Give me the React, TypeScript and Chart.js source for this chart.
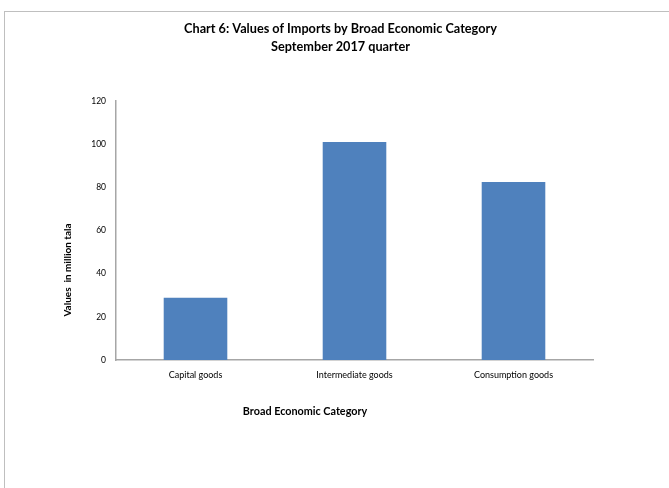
import React, { useEffect, useRef } from "react";
import { Chart, registerables } from "chart.js";

Chart.register(...registerables);

const titleLines = ["Chart 6: Values of Imports by Broad Economic Category", "September 2017 quarter"];
const categories = ["Capital goods", "Intermediate goods", "Consumption goods"];
const importValues = [28.8, 101, 82.5];
const yTicks = [0, 20, 40, 60, 80, 100, 120];
const xAxisTitle = "Broad Economic Category";
const yAxisTitle = "Values  in million tala";

const FONT = "Lato, 'Open Sans', sans-serif";

const textPlugin = {
  id: "texts",
  afterDraw(chart: any) {
    const { ctx, chartArea } = chart;
    ctx.save();
    ctx.fillStyle = "#000";
    ctx.textAlign = "center";
    ctx.textBaseline = "middle";
    ctx.font = `bold 12.7px ${FONT}`;
    ctx.fillText(titleLines[0], 340.5, 29);
    ctx.fillText(titleLines[1], 340.5, 47);
    ctx.font = `bold 10.8px ${FONT}`;
    ctx.fillText(xAxisTitle, chartArea.left + 189, chartArea.bottom + 52);
    ctx.font = `bold 10px ${FONT}`;
    ctx.translate(chartArea.left - 48.5, chartArea.bottom - 90);
    ctx.rotate(-Math.PI / 2);
    ctx.fillText(yAxisTitle, 0, 0);
    ctx.restore();
  },
};

export default function App() {
  const ref = useRef<HTMLCanvasElement>(null);
  useEffect(() => {
    document.body.style.margin = "0";
    const chart = new Chart(ref.current!, {
      type: "bar",
      data: {
        labels: categories,
        datasets: [
          {
            data: importValues,
            backgroundColor: "#4F81BD",
            barPercentage: 0.4,
            categoryPercentage: 1,
          },
        ],
      },
      options: {
        animation: false,
        responsive: false,
        layout: { padding: { left: 0, right: 76, top: 101, bottom: 0 } },
        plugins: {
          legend: { display: false },
          tooltip: { enabled: false },
          title: { display: false },
        },
        scales: {
          x: {
            grid: { display: false, drawTicks: false },
            border: { display: true, color: "#a6a6a6", width: 1.5 },
            ticks: { color: "#000", font: { family: FONT, size: 9 }, padding: 10 },
            afterFit: (s: any) => {
              s.height = 128;
            },
          },
          y: {
            min: 0,
            max: 120,
            afterBuildTicks: (s: any) => {
              s.ticks = yTicks.map((v) => ({ value: v }));
            },
            grid: { display: false, drawTicks: false },
            border: { display: true, color: "#a6a6a6", width: 1.5 },
            ticks: { color: "#000", font: { family: FONT, size: 8.5 }, padding: 10 },
            afterFit: (s: any) => {
              s.width = 116;
            },
          },
        },
      },
      plugins: [textPlugin],
    });
    return () => chart.destroy();
  }, []);
  return (
    <div style={{ position: "relative", width: 669, height: 488, overflow: "hidden", background: "#fff" }}>
      <div
        style={{
          position: "absolute",
          left: 4,
          top: 11,
          width: 720,
          height: 520,
          border: "1.5px solid #bfbfbf",
          boxSizing: "border-box",
        }}
      />
      <canvas ref={ref} width={669} height={488} style={{ position: "absolute", left: 0, top: 0, width: 669, height: 488 }} />
    </div>
  );
}
